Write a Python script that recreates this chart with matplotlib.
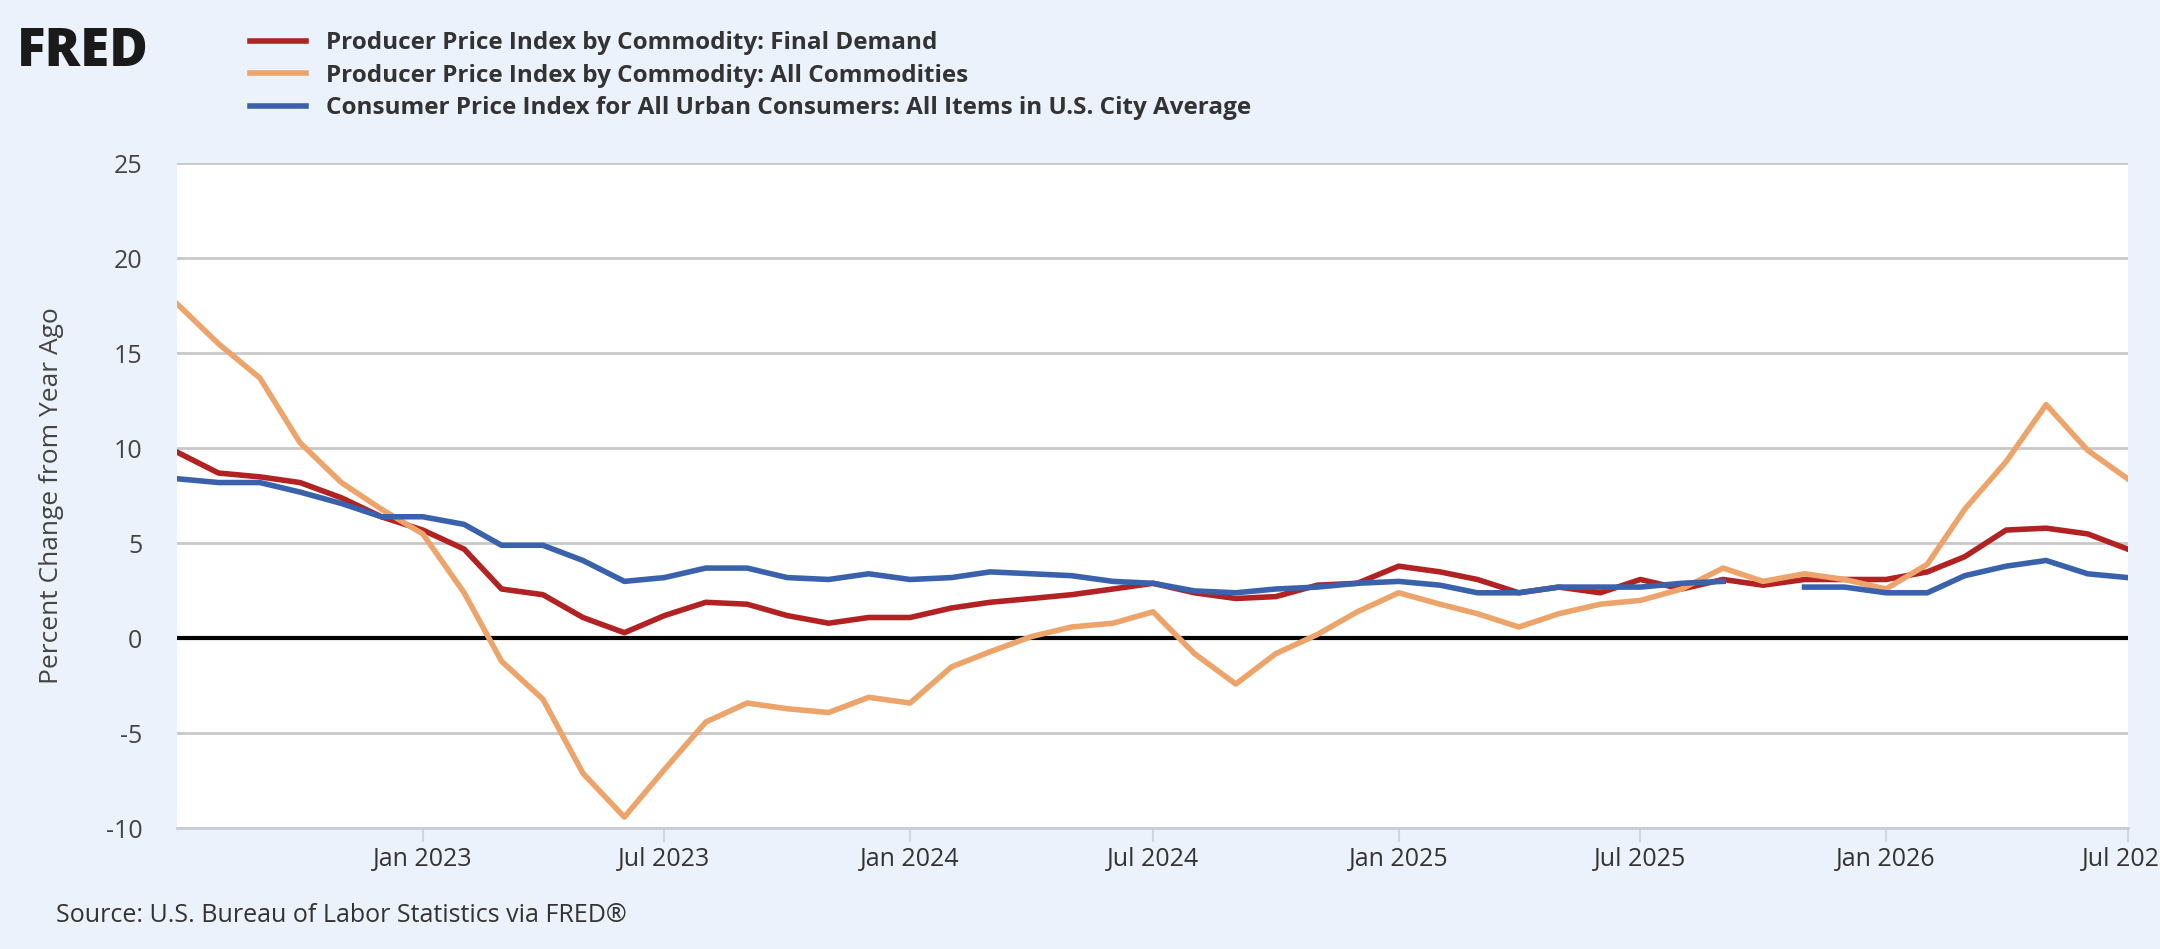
import numpy as np
import pandas as pd
import matplotlib

matplotlib.use("Agg")
import matplotlib.pyplot as plt
import matplotlib.dates as mdates

plt.rcParams["font.family"] = ["Open Sans", "DejaVu Sans"]

dates = pd.date_range("2022-07-01", "2026-07-01", freq="MS")

ppi_final_demand = [
    9.8, 8.7, 8.5, 8.2, 7.4, 6.4, 5.7, 4.7, 2.6, 2.3, 1.1, 0.3, 1.2, 1.9, 1.8, 1.2, 0.8,
    1.1, 1.1, 1.6, 1.9, 2.1, 2.3, 2.6, 2.9, 2.4, 2.1, 2.2, 2.8, 2.9, 3.8, 3.5, 3.1, 2.4,
    2.7, 2.4, 3.1, 2.6, 3.1, 2.8, 3.1, 3.1, 3.1, 3.5, 4.3, 5.7, 5.8, 5.5, 4.7,
]
ppi_all_commodities = [
    17.6, 15.5, 13.7, 10.3, 8.2, 6.8, 5.5, 2.4, -1.2, -3.2, -7.1, -9.4, -6.9, -4.4, -3.4,
    -3.7, -3.9, -3.1, -3.4, -1.5, -0.7, 0.1, 0.6, 0.8, 1.4, -0.8, -2.4, -0.8, 0.2, 1.4,
    2.4, 1.8, 1.3, 0.6, 1.3, 1.8, 2.0, 2.6, 3.7, 3.0, 3.4, 3.1, 2.6, 3.9, 6.8, 9.3, 12.3,
    9.9, 8.4,
]
cpi_all_items = [
    8.4, 8.2, 8.2, 7.7, 7.1, 6.4, 6.4, 6.0, 4.9, 4.9, 4.1, 3.0, 3.2, 3.7, 3.7, 3.2, 3.1,
    3.4, 3.1, 3.2, 3.5, 3.4, 3.3, 3.0, 2.9, 2.5, 2.4, 2.6, 2.7, 2.9, 3.0, 2.8, 2.4, 2.4,
    2.7, 2.7, 2.7, 2.9, 3.0, np.nan, 2.7, 2.7, 2.4, 2.4, 3.3, 3.8, 4.1, 3.4, 3.2,
]
y_ticks = [-10, -5, 0, 5, 10, 15, 20, 25]

bg = "#ebf2fb"
fig = plt.figure(figsize=(21.6, 9.49), dpi=100, facecolor=bg)
ax = fig.add_axes([0.082, 0.127, 0.903, 0.701])
ax.set_facecolor("white")

ax.plot(dates, ppi_final_demand, color="#b22222", linewidth=4, label="Producer Price Index by Commodity: Final Demand")
ax.plot(dates, ppi_all_commodities, color="#eca46a", linewidth=4, label="Producer Price Index by Commodity: All Commodities")
ax.plot(dates, cpi_all_items, color="#3a62ac", linewidth=4, label="Consumer Price Index for All Urban Consumers: All Items in U.S. City Average")
ax.axhline(0, color="black", linewidth=3, zorder=1)

ax.set_xlim(dates[0], dates[-1])
ax.set_ylim(-10, 25)
ax.set_yticks(y_ticks)
ax.set_yticklabels([str(t) for t in y_ticks], fontsize=18, color="#444444")
ax.grid(axis="y", color="#c8c8c8", linewidth=2)
ax.set_axisbelow(True)
ax.xaxis.set_major_formatter(mdates.DateFormatter("%b %Y"))
ax.set_xticks([d for d in dates if d.month in (1, 7) and d != dates[0]])
ax.tick_params(axis="x", labelsize=18, colors="#cfd6e4", labelcolor="#333333", length=10, width=1.5)
ax.tick_params(axis="y", length=0, pad=25)
for side in ("top", "right", "left"):
    ax.spines[side].set_visible(False)
ax.spines["bottom"].set_color("#c8ccd6")
ax.spines["bottom"].set_linewidth(2)
ax.set_ylabel("Percent Change from Year Ago", fontsize=19, color="#444444")
ax.yaxis.set_label_coords(-0.058, 0.5)

fig.text(0.008, 0.945, "FRED", fontsize=38, fontweight="black", color="#1a1a1a", va="center")
fig.legend(loc="upper left", bbox_to_anchor=(0.108, 0.985), frameon=False,
           prop={"size": 17.5, "weight": "bold"}, labelcolor="#333333",
           handlelength=2.3, labelspacing=0.35, borderaxespad=0.3)
fig.text(0.026, 0.028, "Source: U.S. Bureau of Labor Statistics via FRED®", fontsize=18, color="#333333")

fig.savefig("out.png", dpi=100, facecolor=bg)
